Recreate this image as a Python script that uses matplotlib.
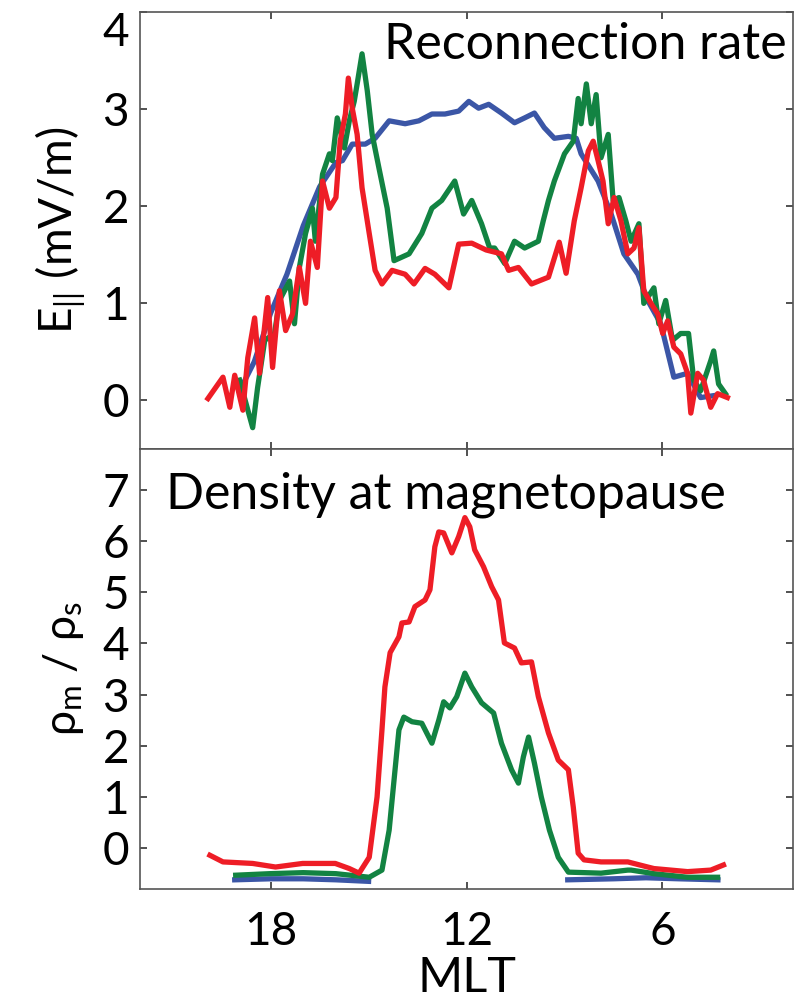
import numpy as np
import matplotlib
matplotlib.use("Agg")
import matplotlib.pyplot as plt

plt.rcParams["font.family"] = ["Lato", "DejaVu Sans"]
plt.rcParams["mathtext.fontset"] = "custom"
plt.rcParams["mathtext.rm"] = "Lato"
plt.rcParams["mathtext.it"] = "Lato"

BLUE = "#3b56a6"
GREEN = "#128342"
RED = "#ee1d26"

# ---- top panel: reconnection rate E_par (mV/m) vs MLT
top_red_mlt = [19.92, 19.46, 19.25, 19.1, 18.85, 18.7, 18.49, 18.34, 18.09, 17.94, 17.73, 17.54,
               17.33, 17.12, 16.93, 16.78, 16.57, 16.41, 16.2, 16.0, 15.87, 15.71, 15.62, 15.5,
               15.35, 15.2, 14.98, 14.8, 14.59, 14.28, 13.88, 13.61, 13.27, 12.97, 12.54, 12.24,
               11.84, 11.4, 10.93, 10.71, 10.41, 10.01, 9.49, 9.16, 8.95, 8.7, 8.49, 8.27,
               8.12, 7.97, 7.82, 7.66, 7.48, 7.27, 7.06, 6.87, 6.72, 6.57, 6.35, 6.14,
               5.99, 5.84, 5.65, 5.44, 5.23, 5.13, 4.92, 4.74, 4.52, 4.31, 4.01]
top_red_val = [0.02, 0.24, -0.07, 0.26, -0.1, 0.44, 0.85, 0.28, 1.06, 0.34, 1.13, 0.72,
               0.89, 1.37, 1.0, 1.64, 1.37, 2.26, 1.98, 2.09, 2.67, 2.95, 3.32, 3.01,
               2.74, 2.19, 1.72, 1.34, 1.2, 1.34, 1.3, 1.2, 1.36, 1.3, 1.16, 1.61,
               1.62, 1.55, 1.51, 1.34, 1.37, 1.2, 1.27, 1.63, 1.31, 1.85, 2.19, 2.57,
               2.67, 2.47, 2.26, 1.82, 2.09, 1.85, 1.51, 1.57, 1.78, 1.13, 1.0, 0.89,
               0.69, 0.82, 0.55, 0.48, 0.28, -0.13, 0.28, 0.21, -0.07, 0.07, 0.03]

top_green_mlt = [18.95, 18.55, 18.4, 18.18, 17.88, 17.73, 17.42, 17.27, 17.12, 16.93, 16.72, 16.63,
                 16.41, 16.2, 16.11, 15.96, 15.74, 15.59, 15.44, 15.35, 15.2, 15.04, 14.89, 14.68,
                 14.43, 14.22, 13.76, 13.37, 13.06, 12.76, 12.36, 12.09, 11.84, 11.54, 11.29, 11.14,
                 10.83, 10.53, 10.22, 9.8, 9.65, 9.49, 9.31, 9.0, 8.73, 8.58, 8.49, 8.33,
                 8.18, 8.03, 7.88, 7.66, 7.51, 7.33, 7.12, 6.96, 6.72, 6.57, 6.26, 6.11,
                 5.9, 5.69, 5.44, 5.2, 5.04, 4.83, 4.52, 4.43, 4.28, 4.07]
top_green_val = [0.21, -0.28, 0.13, 0.62, 0.69, 1.03, 1.23, 0.79, 1.37, 1.72, 1.98, 1.64,
                 2.33, 2.54, 2.47, 2.91, 2.6, 2.88, 3.08, 3.26, 3.57, 3.19, 2.74, 2.39,
                 1.98, 1.44, 1.51, 1.72, 1.98, 2.06, 2.26, 1.92, 2.06, 1.82, 1.57, 1.57,
                 1.41, 1.64, 1.57, 1.64, 1.85, 2.06, 2.26, 2.54, 2.67, 3.11, 2.85, 3.26,
                 2.85, 3.15, 2.5, 2.74, 2.06, 2.09, 1.85, 1.64, 1.82, 1.0, 1.16, 0.79,
                 1.03, 0.62, 0.69, 0.69, 0.21, 0.1, 0.41, 0.51, 0.17, 0.07]

top_blue_mlt = [18.95, 18.5, 18.0, 17.5, 17.0, 16.5, 16.0, 15.8, 15.5, 15.1, 14.8, 14.37,
                13.88, 13.46, 13.06, 12.66, 12.24, 11.93, 11.63, 11.32, 10.93, 10.53, 10.22, 9.92,
                9.62, 9.31, 8.88, 8.64, 8.49, 7.97, 7.57, 7.18, 6.75, 6.45, 6.05, 5.65,
                5.23, 4.83, 4.43]
top_blue_val = [0.1, 0.4, 0.9, 1.3, 1.8, 2.2, 2.45, 2.47, 2.64, 2.64, 2.7, 2.88,
                2.85, 2.88, 2.95, 2.95, 2.98, 3.08, 3.01, 3.05, 2.96, 2.86, 2.91, 2.96,
                2.81, 2.7, 2.72, 2.7, 2.54, 2.26, 1.92, 1.51, 1.3, 1.03, 0.79, 0.24,
                0.28, 0.03, 0.05]

# ---- bottom panel: density ratio rho_m / rho_s vs MLT
bot_red_mlt = [19.86, 19.46, 18.55, 17.85, 17.02, 16.02, 15.59, 15.29, 14.98, 14.74, 14.59, 14.5,
               14.34, 14.07, 13.98, 13.76, 13.58, 13.27, 13.12, 12.97, 12.85, 12.7, 12.45, 12.24,
               12.05, 11.9, 11.75, 11.48, 11.23, 11.02, 10.84, 10.53, 10.32, 10.01, 9.8, 9.49,
               9.19, 8.88, 8.73, 8.58, 8.4, 7.88, 7.06, 6.45, 6.26, 5.23, 4.52, 4.13]
bot_red_val = [-0.14, -0.27, -0.3, -0.37, -0.3, -0.3, -0.4, -0.49, -0.18, 1.0, 2.31, 3.15,
               3.82, 4.13, 4.4, 4.42, 4.72, 4.85, 5.05, 5.89, 6.18, 6.16, 5.77, 6.09,
               6.46, 6.28, 5.83, 5.5, 5.11, 4.85, 4.01, 3.91, 3.62, 3.64, 2.96, 2.25,
               1.72, 1.53, 0.8, -0.1, -0.23, -0.27, -0.27, -0.37, -0.4, -0.46, -0.43, -0.33]

bot_green_mlt = [19.07, 18.03, 17.0, 16.0, 14.98, 14.59, 14.37, 14.22, 14.07, 13.92, 13.67, 13.37,
                 13.06, 12.85, 12.7, 12.51, 12.3, 12.05, 11.84, 11.54, 11.17, 10.93, 10.62, 10.41,
                 10.26, 10.1, 9.92, 9.71, 9.46, 9.19, 8.88, 7.88, 7.06, 6.96, 6.26, 5.23, 4.31]
bot_green_val = [-0.53, -0.5, -0.48, -0.5, -0.57, -0.43, 0.35, 1.33, 2.31, 2.56, 2.47, 2.44,
                 2.05, 2.5, 2.86, 2.74, 2.96, 3.42, 3.15, 2.84, 2.64, 2.05, 1.53, 1.27,
                 1.78, 2.17, 1.66, 1.0, 0.35, -0.18, -0.47, -0.49, -0.43, -0.43, -0.5, -0.57, -0.57]

bot_blue_mlt = [19.1, 18.0, 17.0, 16.0, 15.0, np.nan, 8.9, 7.5, 6.5, 5.5, 4.3]
bot_blue_val = [-0.62, -0.6, -0.6, -0.62, -0.65, np.nan, -0.62, -0.6, -0.58, -0.6, -0.62]

mlt_ticks = [18, 12, 6]
top_yticks = [0, 1, 2, 3, 4]
bot_yticks = [0, 1, 2, 3, 4, 5, 6, 7]

fig = plt.figure(figsize=(7.97, 10.05), dpi=100)
ax1 = fig.add_axes([0.1757, 0.5532, 0.8193, 0.4348])
ax2 = fig.add_axes([0.1757, 0.1154, 0.8193, 0.4378])

lw = 3.8
ax1.plot(top_blue_mlt, top_blue_val, color=BLUE, lw=lw)
ax1.plot(top_green_mlt, top_green_val, color=GREEN, lw=lw)
ax1.plot(top_red_mlt, top_red_val, color=RED, lw=lw)

ax2.plot(bot_blue_mlt, bot_blue_val, color=BLUE, lw=lw)
ax2.plot(bot_green_mlt, bot_green_val, color=GREEN, lw=lw)
ax2.plot(bot_red_mlt, bot_red_val, color=RED, lw=lw)

for ax in (ax1, ax2):
    ax.set_xlim(22, 2)
    ax.set_xticks(mlt_ticks)
    ax.tick_params(direction="in", length=5, width=1.2, top=True, right=True,
                   labelsize=33, pad=8, color="#333333")
    for sp in ax.spines.values():
        sp.set_color("#555555")
        sp.set_linewidth(1.2)

ax1.set_ylim(-0.5, 4.0)
ax1.set_yticks(top_yticks)
ax1.tick_params(labelbottom=False)
# the "4" sits just below the top edge in the original
ax1.get_yticklabels()[-1].set_verticalalignment("top")
ax1.set_ylabel(r"E$_{||}$ (mV/m)", fontsize=33, labelpad=10)
ax1.text(0.99, 0.925, "Reconnection rate", transform=ax1.transAxes,
         ha="right", va="center", fontsize=36)

ax2.set_ylim(-0.8, 7.8)
ax2.set_yticks(bot_yticks)
ax2.set_xticklabels([str(t) for t in mlt_ticks])
ax2.tick_params(axis="x", pad=16)
ax2.set_ylabel(r"ρ$_\mathregular{m}$ / ρ$_\mathregular{s}$", fontsize=32, labelpad=12)
ax2.set_xlabel("MLT", fontsize=35, labelpad=2)
ax2.text(0.04, 0.895, "Density at magnetopause", transform=ax2.transAxes,
         ha="left", va="center", fontsize=36)

fig.savefig("out.png", dpi=100)
